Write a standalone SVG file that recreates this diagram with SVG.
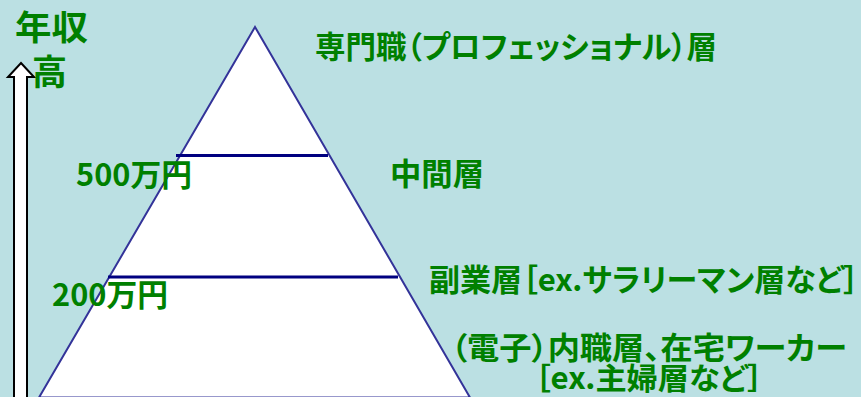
<svg xmlns="http://www.w3.org/2000/svg" width="861" height="397" viewBox="0 0 861 397">
<style>
.t{font-family:"Noto Sans CJK JP","Noto Sans",sans-serif;font-weight:bold;fill:#008000;font-size:31px;font-feature-settings:"palt" 1;}
.lv{stroke:#000080;stroke-width:3;fill:none;}
</style>
<rect width="861" height="397" fill="#BBE0E3"/>
<g id="pyramid">
<polygon points="255,27 39,397.5 470,397.5" fill="#FFFFFF" stroke="#333399" stroke-width="2"/>
</g>
<g id="connectors">
<line class="lv" x1="176" y1="155.5" x2="328" y2="155.5"/>
<line class="lv" x1="108" y1="277" x2="398" y2="277"/>
</g>
<g id="arrow">
<polygon points="21,63 34,77 27,77 27,399 14,399 14,77 8,77" fill="#FFFFFF" stroke="#000000" stroke-width="2"/>
</g>
<g id="axis-label">
<text class="t" x="15" y="40" style="font-size:34px" textLength="73" lengthAdjust="spacingAndGlyphs">年収</text>
<text class="t" x="32" y="85" style="font-size:35px">高</text>
</g>
<g id="label-pro"><text class="t" x="315" y="58" textLength="402" lengthAdjust="spacingAndGlyphs">専門職（プロフェッショナル）層</text></g>
<g id="label-mid"><text class="t" x="390" y="185" textLength="94" lengthAdjust="spacingAndGlyphs">中間層</text></g>
<g id="label-500"><text class="t" x="76" y="186" textLength="116" lengthAdjust="spacingAndGlyphs">500万円</text></g>
<g id="label-200"><text class="t" x="52" y="306" textLength="116" lengthAdjust="spacingAndGlyphs">200万円</text></g>
<g id="label-side"><text class="t" x="429" y="291" textLength="430" lengthAdjust="spacingAndGlyphs">副業層［ex.サラリーマン層など］</text></g>
<g id="label-home">
<text class="t" x="451" y="359" textLength="396" lengthAdjust="spacingAndGlyphs">（電子）内職層、在宅ワーカー</text>
<text class="t" x="535" y="389" style="font-size:30px" textLength="228" lengthAdjust="spacingAndGlyphs">［ex.主婦層など］</text>
</g>
</svg>
